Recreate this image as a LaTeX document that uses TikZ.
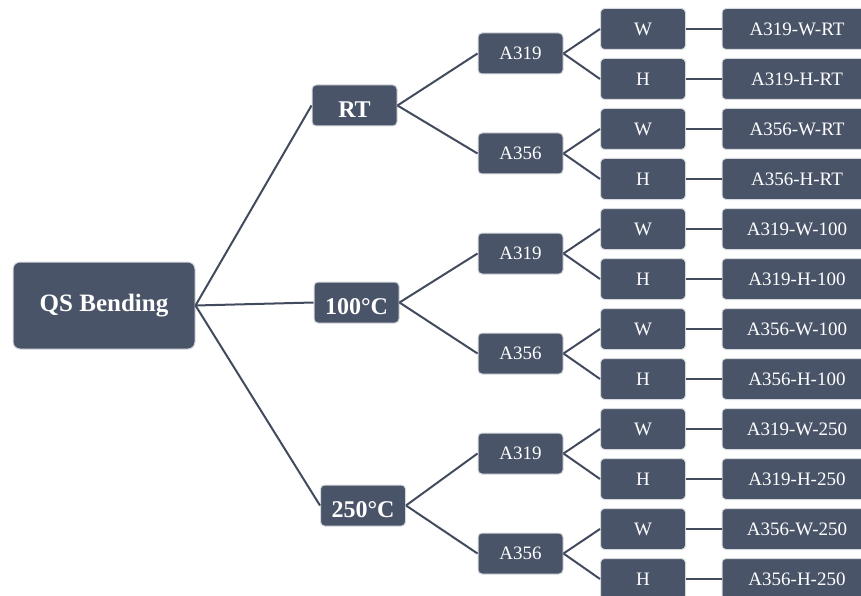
\documentclass[tikz,border=0pt]{standalone}
\usepackage{fontspec}
\setmainfont{Liberation Serif}
\definecolor{boxc}{RGB}{74,84,104}
\definecolor{edgec}{RGB}{214,217,222}
\definecolor{linec}{RGB}{66,75,93}
\begin{document}
\begin{tikzpicture}[x=1pt,y=-1pt,
  box/.style={rectangle, rounded corners=4pt, fill=boxc, draw=edgec, line width=1pt,
    text=white, inner sep=0pt, minimum height=41pt},
  rootbox/.style={box, rounded corners=7pt, minimum width=182pt, minimum height=87pt,
    font=\fontsize{25}{25}\selectfont\bfseries},
  tempbox/.style={box, minimum width=85pt, font=\fontsize{24}{24}\selectfont\bfseries,
    text height=24pt, text depth=0pt},
  smallbox/.style={box, minimum width=85pt, font=\fontsize{19}{19}\selectfont},
  leafbox/.style={box, minimum width=150pt, font=\fontsize{19}{19}\selectfont},
  conn/.style={draw=linec, line width=2pt}]
\useasboundingbox (0,0) rectangle (861,596);
\node[rootbox] (root) at (104,305.5) {QS Bending};
\foreach \i/\tl/\ts/\ty/\tx in {1/RT/RT/105.5/354.5, 2/100°C/100/302.5/356.5, 3/250°C/250/505.5/363} {
  \node[tempbox] (t\i) at (\tx,\ty) {\tl};
  \draw[conn] (root.east) -- (t\i.west);
  \foreach \j/\al in {1/A319, 2/A356} {
    \pgfmathsetmacro\ay{200*(\i-1)+53.5+100*(\j-1)}
    \node[smallbox] (a\i\j) at (520.5,\ay) {\al};
    \draw[conn] (t\i.east) -- (a\i\j.west);
    \foreach \k/\m in {1/W, 2/H} {
      \pgfmathsetmacro\my{200*(\i-1)+29+100*(\j-1)+50*(\k-1)}
      \node[smallbox] (m\i\j\k) at (643,\my) {\m};
      \node[leafbox] (f\i\j\k) at (797,\my) {\al-\m-\ts};
      \draw[conn] (a\i\j.east) -- (m\i\j\k.west);
      \draw[conn] (m\i\j\k.east) -- (f\i\j\k.west);
    }
  }
}
\end{tikzpicture}
\end{document}
